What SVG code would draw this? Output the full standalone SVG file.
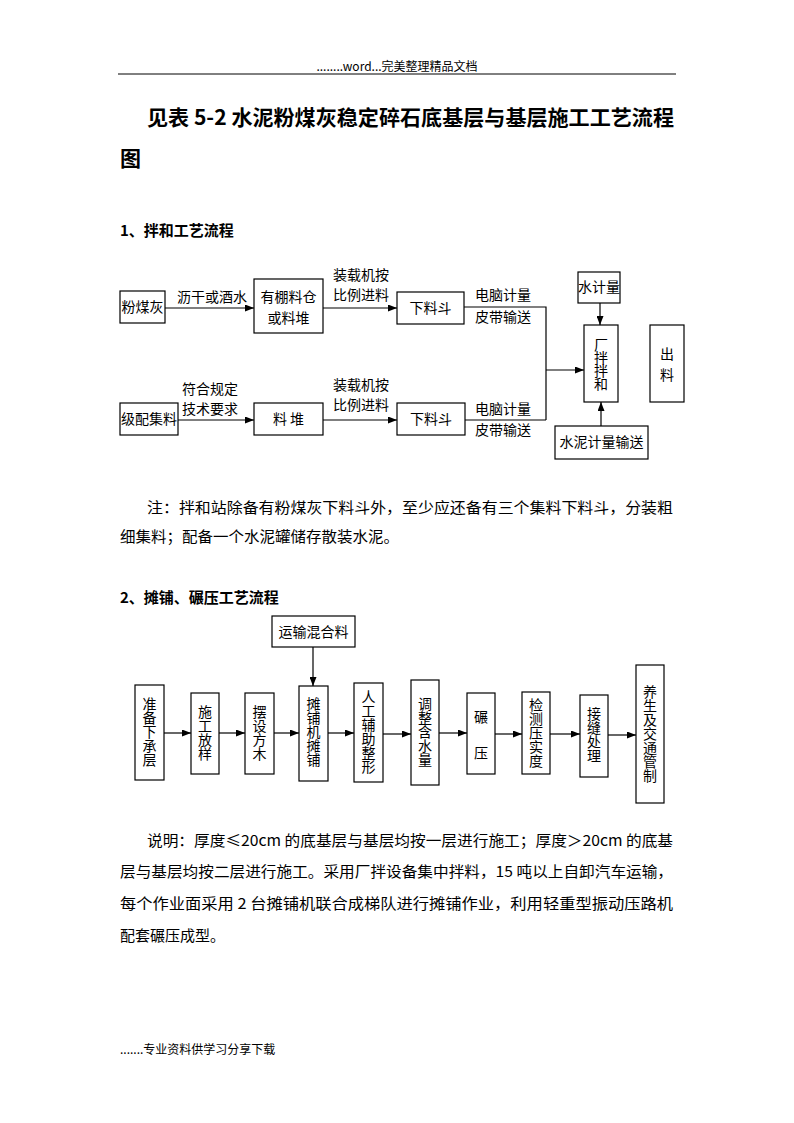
<svg xmlns="http://www.w3.org/2000/svg" width="794" height="1123" viewBox="0 0 794 1123">
<defs>
<marker id="ah" markerWidth="9" markerHeight="7" refX="9" refY="3.5" orient="auto" markerUnits="userSpaceOnUse">
<path d="M0,0 L9,3.5 L0,7 z" fill="#000"/>
</marker>
<style>
text{font-family:"Noto Sans CJK SC","Liberation Sans",sans-serif;fill:#000}
.hd{font-size:12px}
.tt{font-size:21px;font-weight:bold}
.h2{font-size:15px;font-weight:bold}
.p{font-size:15px}
.t{font-size:14px}
.v{font-size:14px;text-anchor:middle;writing-mode:vertical-rl;text-orientation:upright}
.c{text-anchor:middle}
rect{fill:#fff;stroke:#000;stroke-width:1.2}
.cn line,.cn path{stroke:#000;stroke-width:1.2;fill:none}
.a{marker-end:url(#ah)}
</style>
</defs>
<rect x="0" y="0" width="794" height="1123" style="fill:#fff;stroke:none"/>
<text class="hd c" x="397" y="71">........word...完美整理精品文档</text>
<line x1="118" y1="74" x2="676" y2="74" stroke="#000" stroke-width="1"/>
<text class="tt" x="147" y="125" textLength="527" lengthAdjust="spacingAndGlyphs">见表 5-2 水泥粉煤灰稳定碎石底基层与基层施工工艺流程</text>
<text class="tt" x="120" y="166">图</text>
<text class="h2" x="120" y="236">1、拌和工艺流程</text>

<g class="cn" id="connectors1">
<line class="a" x1="165" y1="308" x2="254" y2="308"/>
<line class="a" x1="323" y1="308" x2="397" y2="308"/>
<path d="M464,307 H546 V420"/>
<line class="a" x1="546" y1="370" x2="584" y2="370"/>
<line class="a" x1="600" y1="303" x2="600" y2="325"/>
<line class="a" x1="178" y1="420" x2="254" y2="420"/>
<line class="a" x1="323" y1="420" x2="397" y2="420"/>
<line x1="465" y1="420" x2="546" y2="420"/>
<line class="a" x1="601" y1="426" x2="601" y2="402"/>
</g>
<g id="labels1">
<text class="t" x="177" y="302">沥干或酒水</text>
<text class="t" x="333" y="280">装载机按</text>
<text class="t" x="333" y="300">比例进料</text>
<text class="t" x="475" y="300">电脑计量</text>
<text class="t" x="475" y="322">皮带输送</text>
<text class="t" x="182" y="394">符合规定</text>
<text class="t" x="182" y="414">技术要求</text>
<text class="t" x="333" y="390">装载机按</text>
<text class="t" x="333" y="410">比例进料</text>
<text class="t" x="475" y="414">电脑计量</text>
<text class="t" x="475" y="435">皮带输送</text>
</g>
<g id="n_fmh"><rect x="120" y="291" width="45" height="32"/><text class="t c" x="142.5" y="312">粉煤灰</text></g>
<g id="n_ypl"><rect x="254" y="279" width="69" height="54"/><text class="t c" x="288.5" y="302">有棚料仓</text><text class="t c" x="288.5" y="323">或料堆</text></g>
<g id="n_xld1"><rect x="397" y="292" width="67" height="32"/><text class="t c" x="430.5" y="313">下料斗</text></g>
<g id="n_sjl"><rect x="578" y="272" width="42" height="31"/><text class="t c" x="599" y="292">水计量</text></g>
<g id="n_cb"><rect x="584" y="325" width="34" height="77"/>
<text class="v" x="601" y="364" style="letter-spacing:-1px">厂拌拌和</text></g>
<g id="n_cl"><rect x="650" y="325" width="34" height="77"/><text class="v" x="667" y="368" style="letter-spacing:7px">出料</text></g>
<g id="n_jpjl"><rect x="120" y="403" width="58" height="32"/><text class="t c" x="149" y="424">级配集料</text></g>
<g id="n_ld"><rect x="254" y="403" width="69" height="32"/><text class="t c" x="288.5" y="424">料 堆</text></g>
<g id="n_xld2"><rect x="397" y="403" width="68" height="32"/><text class="t c" x="431" y="424">下料斗</text></g>
<g id="n_snjl"><rect x="555" y="426" width="93" height="33"/><text class="t c" x="601.5" y="447">水泥计量输送</text></g>

<text class="p" x="147" y="513" textLength="526" lengthAdjust="spacingAndGlyphs">注：拌和站除备有粉煤灰下料斗外，至少应还备有三个集料下料斗，分装粗</text>
<text class="p" x="120" y="542" textLength="279" lengthAdjust="spacingAndGlyphs">细集料；配备一个水泥罐储存散装水泥。</text>

<text class="h2" x="120" y="603">2、摊铺、碾压工艺流程</text>

<g class="cn" id="connectors2">
<line class="a" x1="313" y1="647" x2="313" y2="686"/>
<line class="a" x1="164" y1="733" x2="191" y2="733"/>
<line class="a" x1="219" y1="733" x2="245" y2="733"/>
<line class="a" x1="274" y1="733" x2="299" y2="733"/>
<line class="a" x1="328" y1="733" x2="354" y2="733"/>
<line class="a" x1="383" y1="734" x2="411" y2="734"/>
<line class="a" x1="439" y1="733" x2="467" y2="733"/>
<line class="a" x1="495" y1="734" x2="522" y2="734"/>
<line class="a" x1="550" y1="734" x2="580" y2="734"/>
<line class="a" x1="608" y1="735" x2="636" y2="735"/>
</g>
<g id="n_ysh"><rect x="272" y="616" width="83" height="31"/><text class="t c" x="313.5" y="637">运输混合料</text></g>
<g id="n_zb"><rect x="135" y="685" width="29" height="95"/><text class="v" x="149.5" y="732">准备下承层</text></g>
<g id="n_sg"><rect x="191" y="693" width="28" height="81"/><text class="v" x="205" y="733">施工放样</text></g>
<g id="n_bs"><rect x="245" y="693" width="29" height="81"/><text class="v" x="259.5" y="733">摆设方木</text></g>
<g id="n_tp"><rect x="299" y="686" width="29" height="95"/><text class="v" x="313.5" y="732">摊铺机摊铺</text></g>
<g id="n_rg"><rect x="354" y="683" width="29" height="99"/><text class="v" x="368.5" y="732">人工辅助整形</text></g>
<g id="n_tz"><rect x="411" y="680" width="28" height="105"/><text class="v" x="425" y="732">调整含水量</text></g>
<g id="n_ny"><rect x="467" y="693" width="28" height="81"/><text class="v" x="481" y="746" style="letter-spacing:22px">碾压</text></g>
<g id="n_jc"><rect x="522" y="692" width="28" height="82"/><text class="v" x="536" y="733">检测压实度</text></g>
<g id="n_jf"><rect x="580" y="695" width="28" height="82"/><text class="v" x="594" y="735">接缝处理</text></g>
<g id="n_ys"><rect x="636" y="665" width="28" height="138"/><text class="v" x="650" y="734">养生及交通管制</text></g>

<text class="p" x="147" y="846" textLength="526" lengthAdjust="spacingAndGlyphs">说明：厚度≤20cm 的底基层与基层均按一层进行施工；厚度＞20cm 的底基</text>
<text class="p" x="120" y="877" textLength="553" lengthAdjust="spacingAndGlyphs">层与基层均按二层进行施工。采用厂拌设备集中拌料，15 吨以上自卸汽车运输，</text>
<text class="p" x="120" y="909" textLength="553" lengthAdjust="spacingAndGlyphs">每个作业面采用 2 台摊铺机联合成梯队进行摊铺作业，利用轻重型振动压路机</text>
<text class="p" x="120" y="941">配套碾压成型。</text>

<text class="hd" x="120" y="1054">.......专业资料供学习分享下载</text>
</svg>
